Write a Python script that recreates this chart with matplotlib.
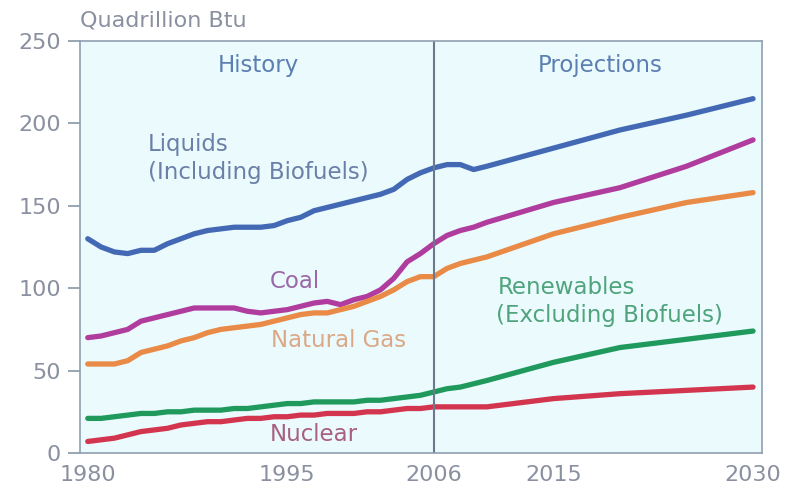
import matplotlib.pyplot as plt

years = [1980, 1981, 1982, 1983, 1984, 1985, 1986, 1987, 1988, 1989, 1990,
         1991, 1992, 1993, 1994, 1995, 1996, 1997, 1998, 1999, 2000, 2001,
         2002, 2003, 2004, 2005, 2006, 2007, 2008, 2009, 2010, 2015, 2020,
         2025, 2030]

liquids = [130, 125, 122, 121, 123, 123, 127, 130, 133, 135, 136,
           137, 137, 137, 138, 141, 143, 147, 149, 151, 153, 155,
           157, 160, 166, 170, 173, 175, 175, 172, 174, 185, 196,
           205, 215]
coal = [70, 71, 73, 75, 80, 82, 84, 86, 88, 88, 88,
        88, 86, 85, 86, 87, 89, 91, 92, 90, 93, 95,
        99, 106, 116, 121, 127, 132, 135, 137, 140, 152, 161,
        174, 190]
natural_gas = [54, 54, 54, 56, 61, 63, 65, 68, 70, 73, 75,
               76, 77, 78, 80, 82, 84, 85, 85, 87, 89, 92,
               95, 99, 104, 107, 107, 112, 115, 117, 119, 133, 143,
               152, 158]
renewables = [21, 21, 22, 23, 24, 24, 25, 25, 26, 26, 26,
              27, 27, 28, 29, 30, 30, 31, 31, 31, 31, 32,
              32, 33, 34, 35, 37, 39, 40, 42, 44, 55, 64,
              69, 74]
nuclear = [7, 8, 9, 11, 13, 14, 15, 17, 18, 19, 19,
           20, 21, 21, 22, 22, 23, 23, 24, 24, 24, 25,
           25, 26, 27, 27, 28, 28, 28, 28, 28, 33, 36,
           38, 40]

x_ticks = [1980, 1995, 2006, 2015, 2030]
y_ticks = [0, 50, 100, 150, 200, 250]

plt.rcParams["font.family"] = "DejaVu Sans"

fig = plt.figure(figsize=(7.9, 4.91), dpi=100)
ax = fig.add_axes([0.101, 0.0774, 0.864, 0.8391])
ax.set_facecolor("#eafafd")

lw = 3.8
ax.plot(years, liquids, color="#4469b4", lw=lw, solid_capstyle="round")
ax.plot(years, coal, color="#b03c9e", lw=lw, solid_capstyle="round")
ax.plot(years, natural_gas, color="#e98a46", lw=lw, solid_capstyle="round")
ax.plot(years, renewables, color="#1f9a5c", lw=lw, solid_capstyle="round")
ax.plot(years, nuclear, color="#d3354f", lw=lw, solid_capstyle="round")

ax.axvline(2006, color="#6a7a8c", lw=1.5)

ax.set_xlim(1979.4, 2030.7)
ax.set_ylim(0, 250)
ax.set_xticks(x_ticks)
ax.set_yticks(y_ticks)

tick_color = "#8a90a0"
ax.tick_params(axis="y", length=8.5, width=1.2, color="#8898a8",
               labelcolor=tick_color, labelsize=16, pad=5)
ax.tick_params(axis="x", length=0, labelcolor=tick_color, labelsize=16, pad=9)
for s in ax.spines.values():
    s.set_color("#8f9fb0")
    s.set_linewidth(1.2)

fs = 16.5
ax.text(1992.8, 235, "History", color="#5c7fb2", fontsize=fs,
        ha="center", va="center")
ax.text(2018.5, 235, "Projections", color="#5c7fb2", fontsize=fs,
        ha="center", va="center")
ax.text(1984.5, 187, "Liquids", color="#6a80a8", fontsize=fs, va="center")
ax.text(1984.5, 170, "(Including Biofuels)", color="#6a80a8", fontsize=fs,
        va="center")
ax.text(1993.7, 104, "Coal", color="#9a68a8", fontsize=fs, va="center")
ax.text(1993.8, 68.5, "Natural Gas", color="#dba886", fontsize=fs,
        va="center")
ax.text(1993.7, 11, "Nuclear", color="#a8607e", fontsize=fs, va="center")
ax.text(2010.8, 100.7, "Renewables", color="#4fa47c", fontsize=fs,
        va="center")
ax.text(2010.7, 83.7, "(Excluding Biofuels)", color="#4fa47c", fontsize=fs,
        va="center")

fig.text(0.101, 0.959, "Quadrillion Btu", color="#8a90a0", fontsize=16,
         va="center", ha="left")

fig.savefig("out.png", dpi=100)
